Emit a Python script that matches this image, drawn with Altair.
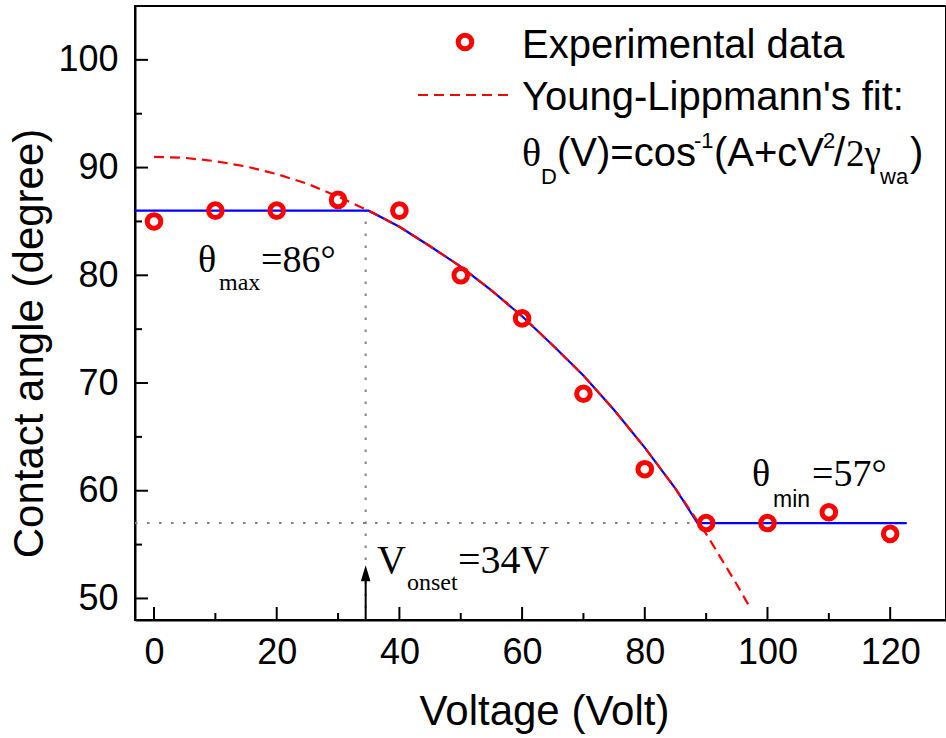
import altair as alt
import pandas as pd

# ---- data ----
voltage = [0, 10, 20, 30, 40, 50, 60, 70, 80, 90, 100, 110, 120]
angle = [85, 86, 86, 87, 86, 80, 76, 69, 62, 57, 57, 58, 56]

fit_v = [0, 5, 10, 15, 20, 25, 30, 35, 40, 45, 50, 55, 60, 65, 70, 75, 80, 85, 90, 95, 97]
fit_theta = [91.0, 90.9, 90.6, 90.1, 89.4, 88.5, 87.3, 86.0, 84.5, 82.7, 80.8, 78.6,
             76.2, 73.5, 70.7, 67.5, 64.0, 60.2, 56.0, 51.3, 49.3]

model_v = [-4, 35, 40, 45, 50, 55, 60, 65, 70, 75, 80, 85, 88.6, 122.7]
model_theta = [86, 86, 84.5, 82.7, 80.8, 78.6, 76.2, 73.5, 70.7, 67.5, 64.0, 60.2, 57, 57]

x_major = [0, 20, 40, 60, 80, 100, 120]
x_minor = [10, 30, 50, 70, 90, 110]
y_major = [50, 60, 70, 80, 90, 100]
y_minor = [55, 65, 75, 85, 95]

v_onset = 34.5
theta_max = 86
theta_min = 57
v_cross = 88.6

X_DOM = [-3.1, 129.1]
Y_DOM = [48, 105]

W, H = 811, 614
SANS = "Liberation Sans"
SERIF = "Liberation Serif"
RED = "#ff0000"
BLUE = "#0000ff"
GREY = "#808080"

xs = alt.Scale(domain=X_DOM, nice=False, zero=False)
ys = alt.Scale(domain=Y_DOM, nice=False, zero=False)

xaxis = alt.Axis(values=x_major, title="Voltage (Volt)", grid=False, ticks=False, tickSize=0,
                 labelFont=SANS, labelFontSize=36, labelColor="black", labelPadding=43,
                 labelBaseline="alphabetic", labelFlush=False,
                 domainColor="black", domainWidth=2,
                 titleFont=SANS, titleFontSize=42, titleFontWeight="normal", titleColor="black",
                 titleX=409, titleY=104, titleBaseline="alphabetic", titleAlign="center")
yaxis = alt.Axis(values=y_major, title="Contact angle (degree)", grid=False, ticks=False, tickSize=0,
                 labelFont=SANS, labelFontSize=36, labelColor="black", labelPadding=17,
                 labelFlush=False,
                 domainColor="black", domainWidth=2,
                 titleFont=SANS, titleFontSize=42, titleFontWeight="normal", titleColor="black",
                 titleAngle=270, titleX=-93, titleY=337, titleBaseline="alphabetic",
                 titleAlign="center")


def X(f):
    return alt.X(f, type="quantitative", scale=xs, axis=xaxis)


def Y(f):
    return alt.Y(f, type="quantitative", scale=ys, axis=yaxis)


pts = pd.DataFrame({"v": voltage, "a": angle})
fit = pd.DataFrame({"v": fit_v, "a": fit_theta})
model = pd.DataFrame({"v": model_v, "a": model_theta})

# inward ticks
xt_major = alt.Chart(pd.DataFrame({"v": x_major})).mark_rule(color="black", strokeWidth=2).encode(
    x=X("v"), y=alt.value(H), y2=alt.value(H - 13))
xt_minor = alt.Chart(pd.DataFrame({"v": x_minor})).mark_rule(color="black", strokeWidth=2).encode(
    x=X("v"), y=alt.value(H), y2=alt.value(H - 7))
yt_major = alt.Chart(pd.DataFrame({"a": y_major})).mark_rule(color="black", strokeWidth=2).encode(
    y=Y("a"), x=alt.value(0), x2=alt.value(13))
yt_minor = alt.Chart(pd.DataFrame({"a": y_minor})).mark_rule(color="black", strokeWidth=2).encode(
    y=Y("a"), x=alt.value(0), x2=alt.value(7))

# dotted guide lines
vguide = alt.Chart(pd.DataFrame({"v": [v_onset], "a1": [Y_DOM[0]], "a2": [theta_max]})).mark_rule(
    color=GREY, strokeWidth=2, strokeDash=[2.5, 9.5]).encode(
    x=X("v"), y=Y("a1"), y2="a2")
hguide = alt.Chart(pd.DataFrame({"v1": [X_DOM[0]], "v2": [v_cross], "a": [theta_min]})).mark_rule(
    color=GREY, strokeWidth=2, strokeDash=[2.5, 9.5]).encode(
    x=X("v1"), x2="v2", y=Y("a"))

# arrow at V_onset
arrow_line = alt.Chart(pd.DataFrame({"v": [v_onset], "a1": [Y_DOM[0]], "a2": [52.2]})).mark_rule(
    color="black", strokeWidth=2).encode(x=X("v"), y=Y("a1"), y2="a2")
arrow_head = alt.Chart(pd.DataFrame({"v": [v_onset], "a": [52.35]})).mark_point(
    shape="M0,-1L0.6,1L-0.6,1Z", filled=True, color="black", opacity=1, size=256).encode(
    x=X("v"), y=Y("a"))

model_line = alt.Chart(model).mark_line(color=BLUE, strokeWidth=2.2, clip=True).encode(
    x=X("v"), y=Y("a"), order="v")
fit_line = alt.Chart(fit).mark_line(color=RED, strokeWidth=2.2, strokeDash=[10, 6], clip=True).encode(
    x=X("v"), y=Y("a"), order="v")
points = alt.Chart(pts).mark_point(shape="circle", filled=False, color=RED, strokeWidth=5,
                                   size=185, opacity=1).encode(x=X("v"), y=Y("a"))


def txt(x, y, s, font, size):
    return alt.Chart(pd.DataFrame({"v": [x], "a": [y], "t": [s]})).mark_text(
        font=font, fontSize=size, align="left", baseline="alphabetic", color="black").encode(
        x=X("v"), y=Y("a"), text="t:N")


annots = [
    txt(7.17, 80.32, "θ", SERIF, 38),
    txt(10.6, 78.6, "max", SERIF, 24),
    txt(17.44, 80.32, "=86°", SERIF, 38),
    txt(36.35, 52.37, "V", SERIF, 40),
    txt(41.24, 50.79, "onset", SERIF, 24),
    txt(49.55, 52.37, "=34V", SERIF, 40),
    txt(97.47, 60.45, "θ", SERIF, 38),
    txt(100.9, 58.50, "min", SANS, 23),
    txt(107.25, 60.45, "=57°", SERIF, 38),
]


# legend block (pixel positions inside the plot area)
def ltxt(px, py, s, font, size):
    return alt.Chart(pd.DataFrame({"t": [s]})).mark_text(
        font=font, fontSize=size, align="left", baseline="alphabetic", color="black").encode(
        x=alt.value(px), y=alt.value(py), text="t:N")


leg_marker = alt.Chart(pd.DataFrame({"t": ["m"]})).mark_point(
    shape="circle", filled=False, color=RED, strokeWidth=5, size=185, opacity=1).encode(
    x=alt.value(330), y=alt.value(36))
leg_dash = alt.Chart(pd.DataFrame({"t": ["d"]})).mark_rule(
    color=RED, strokeWidth=2.2, strokeDash=[10, 6]).encode(
    x=alt.value(283), x2=alt.value(373), y=alt.value(89))

legend = [
    leg_marker, leg_dash,
    ltxt(387, 52, "Experimental data", SANS, 40),
    ltxt(387, 104, "Young-Lippmann's fit:", SANS, 40),
    ltxt(387, 160, "θ", SERIF, 40),
    ltxt(406, 178, "D", SANS, 22),
    ltxt(422, 160, "(V)=cos", SANS, 40),
    ltxt(559, 142, "-1", SANS, 22),
    ltxt(579, 160, "(A+cV", SANS, 40),
    ltxt(688, 142, "2", SANS, 22),
    ltxt(699, 160, "/", SANS, 40),
    ltxt(711, 160, "2γ", SERIF, 37),
    ltxt(745, 178, "wa", SANS, 22),
    ltxt(775, 160, ")", SANS, 40),
]

chart = alt.layer(
    vguide, hguide, arrow_line, arrow_head,
    xt_major, xt_minor, yt_major, yt_minor,
    model_line, fit_line, points,
    *annots, *legend,
).properties(
    width=W, height=H,
    autosize=alt.AutoSizeParams(type="none"),
    padding={"left": 135, "top": 6, "right": 0, "bottom": 118},
    background="white",
).configure_view(stroke="black", strokeWidth=2)

chart.save("out.html", embed_options={"renderer": "svg", "actions": False})
